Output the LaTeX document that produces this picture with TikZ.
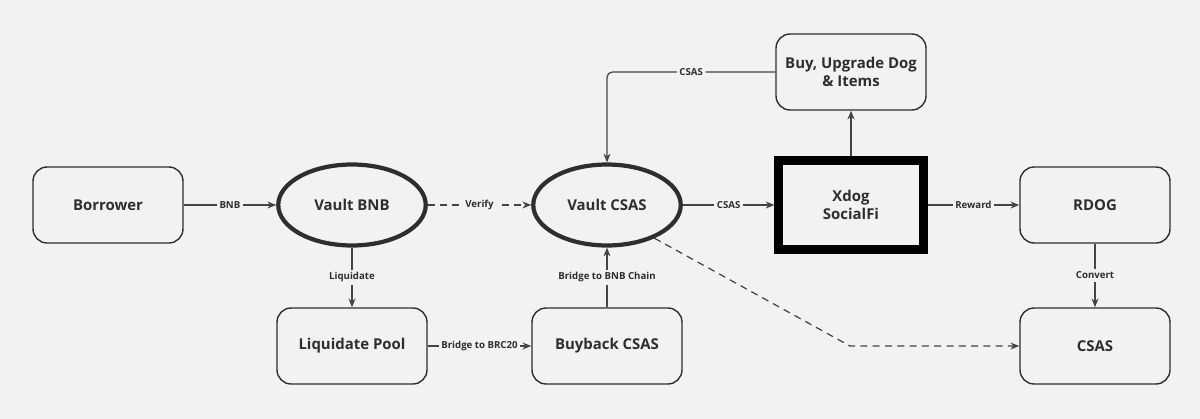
\documentclass[tikz,border=0pt]{standalone}
\usepackage{fontspec}
\setmainfont{Open Sans}
\usetikzlibrary{shapes.geometric,arrows.meta}
\definecolor{bg}{HTML}{F2F2F2}
\definecolor{ink}{HTML}{2E2E2E}
\definecolor{wire}{HTML}{444444}
\tikzset{
  box/.style={draw=ink, line width=0.8pt, rounded corners=8pt, minimum width=3cm, minimum height=1.52cm, align=center, font=\fontsize{8.5}{10}\selectfont\bfseries, text=ink},
  oval/.style={ellipse, draw=ink, line width=2.4pt, minimum width=2.95cm, minimum height=1.62cm, font=\fontsize{8.5}{10}\selectfont\bfseries, text=ink},
  xbox/.style={draw=black, line width=4.6pt, minimum width=2.9cm, minimum height=1.78cm, align=center, font=\fontsize{8.5}{10}\selectfont\bfseries, text=ink},
  flow/.style={draw=wire, line width=0.7pt, -{Stealth[length=5pt,width=4pt]}},
  dflow/.style={flow, dash pattern=on 4pt off 3pt},
  lab/.style={fill=bg, inner sep=1.5pt, font=\fontsize{5.5}{6}\selectfont\bfseries, text=ink}
}
\begin{document}
\begin{tikzpicture}[x=0.02cm,y=-0.02cm]
\fill[bg] (0,0) rectangle (1200,419);
\useasboundingbox (0,0) rectangle (1200,419);
\node[box] (bor) at (108,205) {Borrower};
\node[oval] (vbnb) at (352,205) {Vault BNB};
\node[oval] (vcsas) at (607,205) {Vault CSAS};
\node[xbox] (xdog) at (851,205) {Xdog\\SocialFi};
\node[box] (rdog) at (1095,205) {RDOG};
\node[box] (buy) at (851,72) {Buy, Upgrade Dog\\\& Items};
\node[box] (lpool) at (352,346) {Liquidate Pool};
\node[box] (bback) at (607,346) {Buyback CSAS};
\node[box] (csas) at (1095,346) {CSAS};
\coordinate (bend) at (850,346);

\draw[flow] (bor) -- node[lab]{BNB} (vbnb);
\draw[dflow] (vbnb) -- node[lab]{Verify} (vcsas);
\draw[flow] (vcsas) -- node[lab]{CSAS} (xdog);
\draw[flow] (xdog) -- node[lab]{Reward} (rdog);
\draw[flow] (xdog) -- (buy);
\draw[flow, rounded corners=3pt] (buy.west) -| node[lab, pos=0.25]{CSAS} (vcsas.north);
\draw[flow] (vbnb) -- node[lab]{Liquidate} (lpool);
\draw[flow] (lpool) -- node[lab]{Bridge to BRC20} (bback);
\draw[flow] (bback) -- node[lab]{Bridge to BNB Chain} (vcsas);
\draw[flow] (rdog) -- node[lab]{Convert} (csas);
\draw[dflow] (vcsas.-35) -- (bend) -- (csas);
\end{tikzpicture}
\end{document}
